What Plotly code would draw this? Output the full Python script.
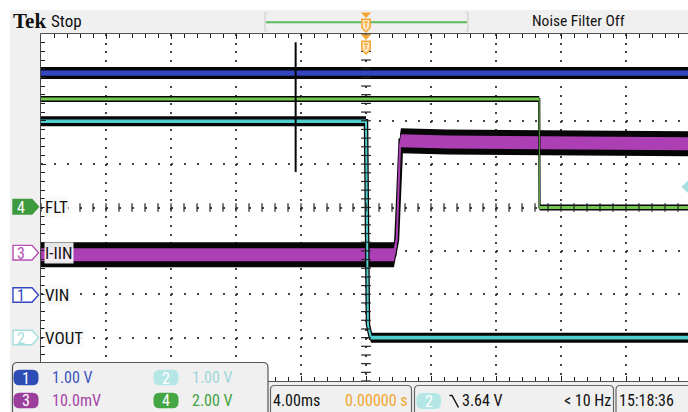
import numpy as np
import plotly.graph_objects as go

# ---------------- data ----------------
time_per_div_ms = 4.0
ch_labels = ["VIN", "VOUT", "I-IIN", "FLT"]
ch_numbers = ["1", "2", "3", "4"]
ch_scales = [1.00, 1.00, 10.0, 2.00]          # V/div, V/div, mV/div, V/div
ch_scale_text = ["1.00 V", "1.00 V", "10.0mV", "2.00 V"]
ch_offsets_div = [-2.0, -3.0, -1.04, 0.0]     # ground marker position (div)

vin_t = [-20.0, 20.0]
vin_v = [5.10, 5.10]
vout_t = [-20.0, 0.0, 0.12, 0.30, 20.0]
vout_v = [4.99, 4.99, 0.30, 0.0, 0.0]
iin_t = [-20.0, 1.72, 1.89, 1.99, 2.09, 2.15, 5.0, 20.0]
iin_mv = [-0.5, -0.5, 2.9, 13.7, 24.3, 25.8, 25.5, 25.1]
flt_t = [-20.0, 10.66, 10.68, 20.0]
flt_v = [5.0, 5.0, 0.0, 0.0]
glitch_t = [-4.33, -4.33]
glitch_v = [5.81, 2.82]

timebase_text = "4.00ms"
delay_text = "0.00000 s"
trig_text = "3.64 V"
freq_text = "< 10 Hz"
clock_text = "15:18:36"

# ---------------- geometry ----------------
W, H = 688, 412
L, T, B = 41, 34, 31
PW, PH = W - L, H - T - B
DIVX = 65.0
DIVY = PH / 8.0
X0 = -5 * time_per_div_ms
X1 = X0 + PW / DIVX * time_per_div_ms

SANS = "Roboto Condensed, DejaVu Sans Condensed, sans-serif"
SERIF = "Liberation Serif, Times New Roman, serif"

BLUE, CYAN, MAG, GRN = "#3446c2", "#52cfcf", "#ad3fb5", "#74c84e"
ENV = "#060606"


def px2x(x):
    return (x - L) / PW


def py2y(y):
    return (H - B - y) / PH


def to_div(vals, ch):
    return [ch_offsets_div[ch] + v / ch_scales[ch] for v in vals]


fig = go.Figure()


def add_channel(t, vals, ch, env_px, core_px, color, line_black, line_col):
    y = np.array(to_div(vals, ch))
    t = list(t)
    he, hc = env_px / DIVY, core_px / DIVY
    fig.add_trace(go.Scatter(x=t, y=y, mode="lines",
                             line=dict(color=ENV, width=line_black),
                             hoverinfo="skip", showlegend=False))
    fig.add_trace(go.Scatter(x=t + t[::-1], y=list(y + he) + list((y - he)[::-1]),
                             mode="lines", fill="toself", fillcolor=ENV,
                             line=dict(width=0), hoverinfo="skip", showlegend=False))
    fig.add_trace(go.Scatter(x=t + t[::-1], y=list(y + hc) + list((y - hc)[::-1]),
                             mode="lines", fill="toself", fillcolor=color,
                             line=dict(width=0), hoverinfo="skip", showlegend=False))
    fig.add_trace(go.Scatter(x=t, y=y, mode="lines",
                             line=dict(color=color, width=line_col),
                             hoverinfo="skip", showlegend=False))


add_channel(vin_t, vin_v, 0, 6.0, 2.6, BLUE, 3, 1.5)
add_channel(iin_t, iin_mv, 2, 12.5, 6.5, MAG, 5, 2)
add_channel(vout_t, vout_v, 1, 5.0, 1.8, CYAN, 4.5, 2)
add_channel(flt_t, flt_v, 3, 3.0, 1.5, GRN, 2.2, 0.8)

fig.add_trace(go.Scatter(x=glitch_t, y=to_div(glitch_v, 0), mode="lines",
                         line=dict(color=ENV, width=2), hoverinfo="skip", showlegend=False))

# centre cross-hair ticks
fig.add_trace(go.Scatter(x=np.arange(X0, X1, time_per_div_ms / 5), y=np.zeros(50),
                         mode="markers", marker=dict(symbol="line-ns", size=6,
                                                     line=dict(color="#222", width=1.2)),
                         hoverinfo="skip", showlegend=False))
fig.add_trace(go.Scatter(x=np.zeros(41), y=np.arange(-4, 4.01, 0.2),
                         mode="markers", marker=dict(symbol="line-ew", size=7,
                                                     line=dict(color="#222", width=1.2)),
                         hoverinfo="skip", showlegend=False))

shapes, annos = [], []


def pth(pts, close=True):
    s = "M " + " L ".join(f"{px2x(x):.5f},{py2y(y):.5f}" for x, y in pts)
    return s + (" Z" if close else "")


def rrect(x0, y0, x1, y1, r):
    def p(x, y):
        return f"{px2x(x):.5f},{py2y(y):.5f}"
    return (f"M {p(x0 + r, y0)} L {p(x1 - r, y0)} Q {p(x1, y0)} {p(x1, y0 + r)} "
            f"L {p(x1, y1 - r)} Q {p(x1, y1)} {p(x1 - r, y1)} L {p(x0 + r, y1)} "
            f"Q {p(x0, y1)} {p(x0, y1 - r)} L {p(x0, y0 + r)} Q {p(x0, y0)} {p(x0 + r, y0)} Z")


def shp(path, fill=None, line=None, lw=1):
    shapes.append(dict(type="path", xref="paper", yref="paper", path=path,
                       fillcolor=fill if fill else "rgba(0,0,0,0)",
                       line=dict(color=line if line else "rgba(0,0,0,0)", width=lw if line else 0),
                       layer="above"))


def txt(s, x, y, size=15, color="#111", anchor="left", family=SANS, bg=None):
    annos.append(dict(text=s, x=px2x(x), y=py2y(y), xref="paper", yref="paper",
                      xanchor=anchor, yanchor="middle", showarrow=False,
                      font=dict(size=size, color=color, family=family),
                      bgcolor=bg, borderpad=0))


BG = "#f0f0f0"
# top status bar and left strip
shp(pth([(10, 10), (688, 10), (688, 33.3), (10, 33.3)]), fill=BG)
shp(pth([(10, 33), (40.2, 33), (40.2, 412), (10, 412)]), fill=BG)
# bottom strip (right part)
shp(pth([(268, 381.8), (688, 381.8), (688, 412), (268, 412)]), fill=BG)

txt("<b>Tek</b>", 12, 21, size=21, family=SERIF)
txt("Stop", 50, 21.5, size=17)
txt("Noise Filter Off", 578.5, 21.5, size=15.5, anchor="center")

# record-length bar
shp(pth([(266, 22.3), (467, 22.3)], close=False), line="#5cb85c", lw=2)
shp(pth([(267.5, 13), (265, 13), (265, 31), (267.5, 31)], close=False), line="#d0d0d0", lw=1.2)
shp(pth([(465.5, 13), (468, 13), (468, 31), (465.5, 31)], close=False), line="#d0d0d0", lw=1.2)

# trigger position markers
tx = L + (0 - X0) / (X1 - X0) * PW
ORG = "#f2a531"
for y0 in (12.5, 34.5):
    shp(pth([(tx - 5, y0), (tx + 5, y0), (tx, y0 + 5.5)]), fill=ORG)
    shp(pth([(tx - 4.2, y0 + 6.8), (tx + 4.2, y0 + 6.8), (tx + 4.2, y0 + 15),
             (tx, y0 + 19.5), (tx - 4.2, y0 + 15)]), fill="#fde6c2", line=ORG, lw=1.5)
    shp(pth([(tx - 2, y0 + 9.5), (tx + 2, y0 + 9.5)], close=False), line=ORG, lw=1.2)
    shp(pth([(tx, y0 + 9.5), (tx, y0 + 15)], close=False), line=ORG, lw=1.2)

# trigger level arrow (right edge)
shp(pth([(688, 180.5), (688, 193), (681.5, 186.7)]), fill="#a6e0e0")

# channel ground markers and labels at left
badge_y = [295.0, 337.5, 252.7, 206.7]
badge_fill = ["white", "white", "white", "#3e9a3e"]
badge_line = [BLUE, "#a6dede", "#b54fb5", "#3e9a3e"]
badge_txt = [BLUE, "#a6dede", "#b54fb5", "white"]
for i in range(4):
    yc = badge_y[i]
    shp(pth([(13, yc - 7.3), (32, yc - 7.3), (38.5, yc), (32, yc + 7.3), (13, yc + 7.3)]),
        fill=badge_fill[i], line=badge_line[i], lw=1.4)
    txt(ch_numbers[i], 21, yc + 0.5, size=16, color=badge_txt[i], anchor="center")
    txt(ch_labels[i], 43.5, yc, size=17, color="#111", bg="rgba(250,250,250,0.92)")

# bottom-left channel scale panel
shp(rrect(12.5, 362.5, 268, 420, 5), fill=BG, line="#555", lw=1.2)
pan_x = [26, 166, 26, 166]
pan_y = [377.5, 377.5, 400.5, 400.5]
pan_fill = ["#2e4db4", "#b5e6e6", "#9c3e9c", "#44a744"]
pan_txt = ["#3b55c0", "#9ed8d8", "#a444a4", "#3ea23e"]
for i in range(4):
    cx, cy = pan_x[i], pan_y[i]
    shp(rrect(cx - 12.5, cy - 7.8, cx + 12.5, cy + 7.8, 6), fill=pan_fill[i])
    txt(ch_numbers[i], cx, cy + 0.5, size=16, color="white", anchor="center")
    txt(ch_scale_text[i], cx + 24.5, cy, size=16, color=pan_txt[i])

# bottom-right status boxes
shp(rrect(270.5, 385.5, 411.5, 425, 4), fill=BG, line="#666", lw=1.2)
shp(rrect(414.5, 385.5, 613.5, 425, 4), fill=BG, line="#666", lw=1.2)
shp(rrect(616, 385.5, 700, 425, 4), fill=BG, line="#666", lw=1.2)
txt(timebase_text, 272, 400.5, size=16)
txt(delay_text, 409, 400.5, size=16, color=ORG, anchor="right")
shp(rrect(416.5, 393, 441, 409, 6), fill="#b5e6e6")
txt("2", 428.7, 401.5, size=16, color="white", anchor="center")
shp(pth([(449.5, 395.5), (452, 395.5), (458.5, 407.5)], close=False), line="#111", lw=1.4)
txt(trig_text, 460.5, 400.5, size=16)
txt(freq_text, 612, 400.5, size=16, anchor="right")
txt(clock_text, 618, 400.5, size=16)

AX = "#1e1e1e"
fig.update_layout(
    width=W, height=H,
    margin=dict(l=L, r=0, t=T, b=B, pad=0),
    paper_bgcolor="white", plot_bgcolor="white",
    showlegend=False,
    xaxis=dict(range=[X0, X1], showticklabels=False, showline=True, linecolor=AX,
               linewidth=1.5, mirror="ticks", ticks="inside", ticklen=5, tickwidth=1.4,
               tickcolor=AX, tick0=0, dtick=time_per_div_ms, zeroline=False,
               showgrid=True, gridcolor="#444", gridwidth=1.5,
               griddash=f"2px,{DIVY / 5 - 2:.2f}px",
               minor=dict(ticks="inside", ticklen=4, tickwidth=1.3, tickcolor=AX,
                          tick0=0, dtick=time_per_div_ms / 5, showgrid=False),
               fixedrange=True),
    yaxis=dict(range=[-4, 4], showticklabels=False, showline=True, linecolor=AX,
               linewidth=1.5, ticks="inside", ticklen=5, tickwidth=1.4, tickcolor=AX,
               tick0=0, dtick=1, zeroline=False, showgrid=True, gridcolor="#444",
               gridwidth=1.5, griddash=f"2px,{DIVX / 5 - 2:.2f}px",
               minor=dict(ticks="inside", ticklen=4, tickwidth=1.3, tickcolor=AX,
                          tick0=0, dtick=0.2, showgrid=False),
               fixedrange=True),
    shapes=shapes, annotations=annos,
)

fig.write_html("out.html", config={"displayModeBar": False},
               post_script="document.body.style.margin='0';"
                           "document.body.style.overflow='hidden';")
